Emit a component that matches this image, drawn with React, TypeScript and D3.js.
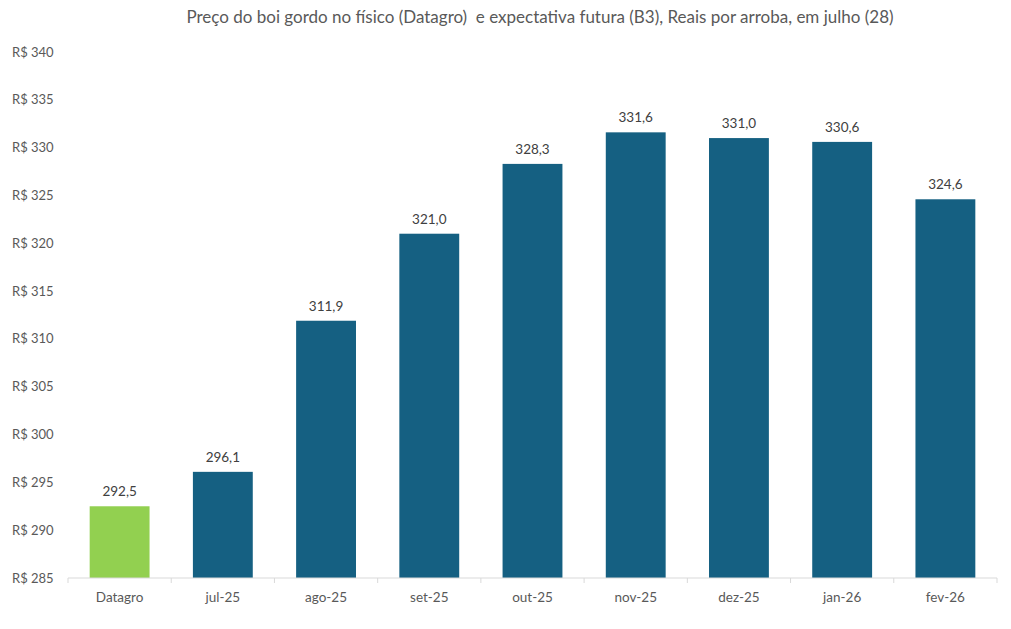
import * as React from "react";
import * as d3 from "d3";

const categories = ["Datagro", "jul-25", "ago-25", "set-25", "out-25", "nov-25", "dez-25", "jan-26", "fev-26"];
const prices = [292.5, 296.1, 311.9, 321.0, 328.3, 331.6, 331.0, 330.6, 324.6];
const yTicks = [285, 290, 295, 300, 305, 310, 315, 320, 325, 330, 335, 340];

const title = "Preço do boi gordo no físico (Datagro)  e expectativa futura (B3), Reais por arroba, em julho (28)";

export default function App() {
  const width = 1011, height = 629;
  const margin = { top: 52, right: 14, bottom: 51, left: 68 };
  const font = "Lato, 'Open Sans', sans-serif";

  const x = d3.scaleBand<string>()
    .domain(categories)
    .range([margin.left, width - margin.right])
    .paddingInner(0.42)
    .paddingOuter(0.21);
  const y = d3.scaleLinear()
    .domain([285, 340])
    .range([height - margin.bottom, margin.top]);

  const step = x.step();
  const x0 = margin.left;
  const fmt = (v: number) => v.toFixed(1).replace(".", ",");

  return (
    <svg width={width} height={height} style={{ position: "absolute", left: 0, top: 0, background: "#fff" }}>
      <text x={540} y={23} textAnchor="middle" fontFamily={font} fontSize={17} fill="#595959"
        style={{ whiteSpace: "pre" }}>{title}</text>

      {yTicks.map(t => (
        <text key={t} x={12} y={y(t)} dy="0.35em" fontFamily={font} fontSize={13} fill="#595959">{"R$ " + t}</text>
      ))}

      {categories.map((c, i) => (
        <g key={c}>
          <rect x={x(c)} y={y(prices[i])} width={x.bandwidth()} height={y(285) - y(prices[i])}
            fill={i === 0 ? "#92D050" : "#156082"} />
          <text x={x(c)! + x.bandwidth() / 2} y={y(prices[i]) - 10} textAnchor="middle"
            fontFamily={font} fontSize={13.5} fill="#404040">{fmt(prices[i])}</text>
          <text x={x(c)! + x.bandwidth() / 2} y={y(285) + 24} textAnchor="middle"
            fontFamily={font} fontSize={13.5} fill="#595959">{c}</text>
        </g>
      ))}

      <line x1={x0} x2={width - margin.right} y1={y(285)} y2={y(285)} stroke="#d9d9d9" strokeWidth={1} />
      {d3.range(categories.length + 1).map(i => (
        <line key={i} x1={x0 + i * step} x2={x0 + i * step} y1={y(285)} y2={y(285) + 5} stroke="#d9d9d9" />
      ))}
    </svg>
  );
}
